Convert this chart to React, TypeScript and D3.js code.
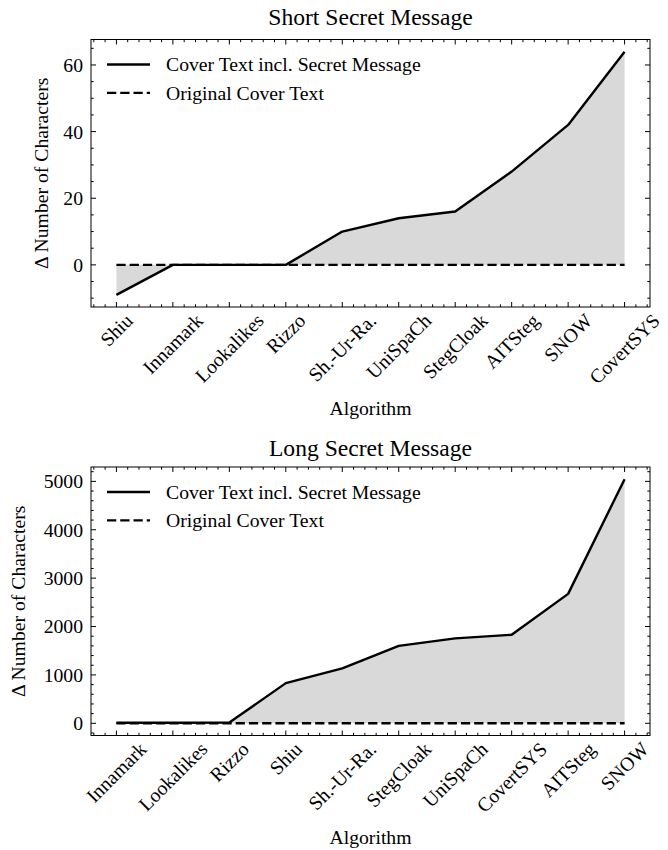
import React from 'react';
import * as d3 from 'd3';

// short secret message
const shortAlgorithms = ['Shiu', 'Innamark', 'Lookalikes', 'Rizzo', 'Sh.-Ur-Ra.', 'UniSpaCh', 'StegCloak', 'AITSteg', 'SNOW', 'CovertSYS'];
const shortValues = [-9, 0, 0, 0, 10, 14, 16, 28, 42, 64];
const shortYTicks = [0, 20, 40, 60];

// long secret message
const longAlgorithms = ['Innamark', 'Lookalikes', 'Rizzo', 'Shiu', 'Sh.-Ur-Ra.', 'StegCloak', 'UniSpaCh', 'CovertSYS', 'AITSteg', 'SNOW'];
const longValues = [12, 12, 15, 830, 1135, 1600, 1755, 1830, 2675, 5045];
const longYTicks = [0, 1000, 2000, 3000, 4000, 5000];

const legendLabels = ['Cover Text incl. Secret Message', 'Original Cover Text'];

const FONT = '"Liberation Serif", "DejaVu Serif", "Times New Roman", serif';
const FS = 19.7;
const LEFT = 91;
const RIGHT = 650;

// text width for the rotated tick labels (matplotlib centres the rotated box on the tick)
let ctx: CanvasRenderingContext2D | null = null;
const textWidth = (s: string) => {
  if (!ctx) ctx = document.createElement('canvas').getContext('2d');
  if (!ctx) return s.length * 0.45 * FS;
  ctx.font = `${FS}px ${FONT}`;
  return ctx.measureText(s).width;
};

type PanelProps = {
  title: string;
  cats: string[];
  values: number[];
  yTicks: number[];
  minorStep: number;
  top: number;
  bottom: number;
  ylabelX: number;
  titleGap: number;
};

const Panel = ({ title, cats, values, yTicks, minorStep, top, bottom, ylabelX, titleGap }: PanelProps) => {
  const n = cats.length;
  const x = d3.scaleLinear().domain([-0.45, n - 1 + 0.45]).range([LEFT, RIGHT]);
  const lo = Math.min(0, d3.min(values)!);
  const hi = Math.max(0, d3.max(values)!);
  const pad = (hi - lo) * 0.05;
  const y = d3.scaleLinear().domain([lo - pad, hi + pad]).range([bottom, top]);

  const xMinor = d3.range(-0.4, n - 1 + 0.45, 0.2).filter(v => Math.abs(v - Math.round(v)) > 0.01);
  const [y0, y1] = y.domain();
  const yMinor = d3.range(Math.ceil(y0 / minorStep) * minorStep, y1, minorStep).filter(v => !yTicks.includes(v));

  const area = d3.area<number>().x((_, i) => x(i)).y0(y(0)).y1(d => y(d));
  const line = d3.line<number>().x((_, i) => x(i)).y(d => y(d));

  const major = 5, minor = 2.7;
  const boxH = 1.107 * FS;

  return (
    <g>
      <text x={(LEFT + RIGHT) / 2} y={top - titleGap} textAnchor="middle" fontSize={23.6}>{title}</text>
      <path d={area(values)!} fill="#d9d9d9" />
      <line x1={x(0)} x2={x(n - 1)} y1={y(0)} y2={y(0)} stroke="#000" strokeWidth={2.4} strokeDasharray="9.25,4" />
      <path d={line(values)!} fill="none" stroke="#000" strokeWidth={2.4} strokeLinejoin="round" />

      {/* ticks, inward on every side */}
      <g stroke="#000" strokeWidth={1}>
        {cats.map((_, i) => (
          <g key={'xt' + i}>
            <line x1={x(i)} x2={x(i)} y1={bottom} y2={bottom - major} />
            <line x1={x(i)} x2={x(i)} y1={top} y2={top + major} />
          </g>
        ))}
        {xMinor.map(v => (
          <g key={'xm' + v}>
            <line x1={x(v)} x2={x(v)} y1={bottom} y2={bottom - minor} />
            <line x1={x(v)} x2={x(v)} y1={top} y2={top + minor} />
          </g>
        ))}
        {yTicks.map(v => (
          <g key={'yt' + v}>
            <line x1={LEFT} x2={LEFT + major} y1={y(v)} y2={y(v)} />
            <line x1={RIGHT} x2={RIGHT - major} y1={y(v)} y2={y(v)} />
          </g>
        ))}
        {yMinor.map(v => (
          <g key={'ym' + v}>
            <line x1={LEFT} x2={LEFT + minor} y1={y(v)} y2={y(v)} />
            <line x1={RIGHT} x2={RIGHT - minor} y1={y(v)} y2={y(v)} />
          </g>
        ))}
      </g>
      <rect x={LEFT} y={top} width={RIGHT - LEFT} height={bottom - top} fill="none" stroke="#000" strokeWidth={1} />

      {yTicks.map(v => (
        <text key={'yl' + v} x={83} y={y(v)} dy="0.35em" textAnchor="end" fontSize={FS}>{v}</text>
      ))}
      {cats.map((c, i) => {
        const side = (textWidth(c) + boxH) * Math.SQRT1_2;
        const cy = bottom + 2.5 + side / 2;
        return (
          <text key={'xl' + c} transform={`translate(${x(i)},${cy}) rotate(-45)`} dy="0.34em" textAnchor="middle" fontSize={FS}>{c}</text>
        );
      })}
      <text x={(LEFT + RIGHT) / 2} y={bottom + 108} textAnchor="middle" fontSize={FS}>Algorithm</text>
      <text transform={`translate(${ylabelX},${(top + bottom) / 2}) rotate(-90)`} dy="0.35em" textAnchor="middle" fontSize={FS}>Δ Number of Characters</text>

      {/* legend */}
      {legendLabels.map((l, i) => (
        <g key={l} transform={`translate(0,${top + 25 + i * 28.4})`}>
          <line x1={107} x2={150} y1={0} y2={0} stroke="#000" strokeWidth={2.4} strokeDasharray={i === 1 ? '9.25,4' : undefined} />
          <text x={166} y={0} dy="0.35em" fontSize={FS}>{l}</text>
        </g>
      ))}
    </g>
  );
};

export default function App() {
  return (
    <svg width={668} height={850} style={{ position: 'absolute', left: 0, top: 0, background: '#fff' }} fontFamily={FONT}>
      <rect width={668} height={850} fill="#fff" />
      <Panel title="Short Secret Message" cats={shortAlgorithms} values={shortValues} yTicks={shortYTicks} minorStep={5} top={39.5} bottom={307} ylabelX={41} titleGap={14.5} />
      <Panel title="Long Secret Message" cats={longAlgorithms} values={longValues} yTicks={longYTicks} minorStep={200} top={467} bottom={735.5} ylabelX={18} titleGap={11} />
    </svg>
  );
}
